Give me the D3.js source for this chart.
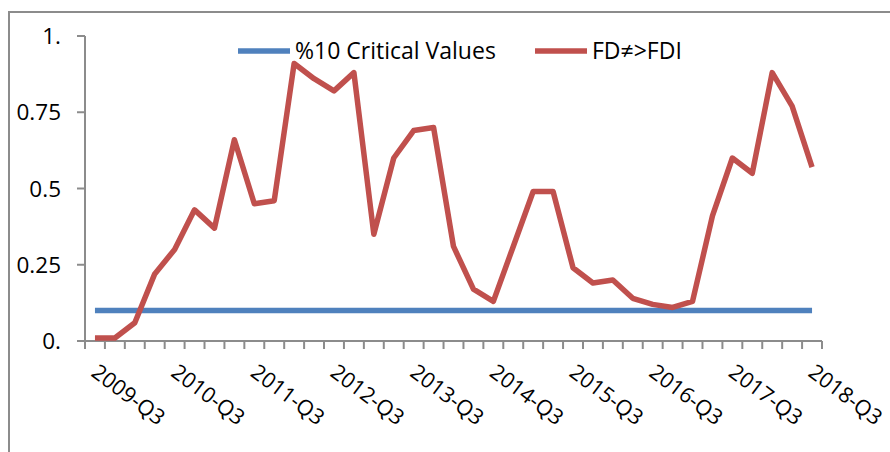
<!DOCTYPE html>
<html>
<head>
<meta charset="utf-8">
<script src="https://cdn.jsdelivr.net/npm/d3@7"></script>
<style>
    body { margin: 0; background: white; }
    svg text { font-family: "Open Sans", "Liberation Sans", sans-serif; fill: #000; }
</style>
</head>
<body>
<svg id="chart" width="890" height="452"></svg>
<script>
'use strict';

var quarters = ['2009-Q3', '2009-Q4', '2010-Q1', '2010-Q2', '2010-Q3', '2010-Q4', '2011-Q1', '2011-Q2',
    '2011-Q3', '2011-Q4', '2012-Q1', '2012-Q2', '2012-Q3', '2012-Q4', '2013-Q1', '2013-Q2',
    '2013-Q3', '2013-Q4', '2014-Q1', '2014-Q2', '2014-Q3', '2014-Q4', '2015-Q1', '2015-Q2',
    '2015-Q3', '2015-Q4', '2016-Q1', '2016-Q2', '2016-Q3', '2016-Q4', '2017-Q1', '2017-Q2',
    '2017-Q3', '2017-Q4', '2018-Q1', '2018-Q2', '2018-Q3']
var fdValues = [0.01, 0.01, 0.06, 0.22, 0.30, 0.43, 0.37, 0.66, 0.45, 0.46,
    0.91, 0.86, 0.82, 0.88, 0.35, 0.60, 0.69, 0.70, 0.31, 0.17,
    0.13, 0.31, 0.49, 0.49, 0.24, 0.19, 0.20, 0.14, 0.12, 0.11,
    0.13, 0.41, 0.60, 0.55, 0.88, 0.77, 0.57]
var criticalValue = 0.10
var yTicks = [0, 0.25, 0.5, 0.75, 1]
var yTickLabels = ['0.', '0.25', '0.5', '0.75', '1.']
var seriesNames = ['%10 Critical Values', 'FD\u2260>FDI']
var seriesColors = ['#4F81BD', '#C0504D']

var svg = d3.select('#chart')
var axisColor = '#8c8c8c'

// outer chart frame, runs off the right and bottom edge
svg.append('path')
    .attr('d', 'M9,452V12H890')
    .attr('fill', 'none')
    .attr('stroke', axisColor)
    .attr('stroke-width', 2)

var x = d3.scaleBand().domain(quarters).range([85, 822])
var y = d3.scaleLinear().domain([0, 1]).range([341, 36])
var cx = function(q) { return x(q) + x.bandwidth() / 2 }

// y axis
var yAxis = svg.append('g')
yAxis.append('line')
    .attr('x1', 85).attr('x2', 85)
    .attr('y1', y(0)).attr('y2', y(1))
    .attr('stroke', axisColor).attr('stroke-width', 2)
yAxis.selectAll('line.tick').data(yTicks).enter().append('line')
    .attr('class', 'tick')
    .attr('x1', 77).attr('x2', 85)
    .attr('y1', function(d) { return y(d) })
    .attr('y2', function(d) { return y(d) })
    .attr('stroke', axisColor).attr('stroke-width', 2)
yAxis.selectAll('text').data(yTicks).enter().append('text')
    .attr('x', 61)
    .attr('y', function(d) { return y(d) })
    .attr('dy', '0.36em')
    .attr('text-anchor', 'end')
    .style('font-size', '22.5px')
    .text(function(d, i) { return yTickLabels[i] })

// x axis, ticks between categories
var xAxis = svg.append('g')
xAxis.append('line')
    .attr('x1', 85).attr('x2', 822)
    .attr('y1', y(0)).attr('y2', y(0))
    .attr('stroke', axisColor).attr('stroke-width', 2)
var bounds = quarters.map(function(q) { return x(q) }).concat([x.range()[1]])
xAxis.selectAll('line.tick').data(bounds).enter().append('line')
    .attr('class', 'tick')
    .attr('x1', function(d) { return d })
    .attr('x2', function(d) { return d })
    .attr('y1', y(0)).attr('y2', y(0) + 8)
    .attr('stroke', axisColor).attr('stroke-width', 2)
var shown = quarters.filter(function(q, i) { return i % 4 === 0 })
xAxis.selectAll('text').data(shown).enter().append('text')
    .attr('transform', function(q) { return 'translate(' + (cx(q) - 5) + ',375) rotate(37)' })
    .attr('text-anchor', 'start')
    .style('font-size', '21.5px')
    .text(function(q) { return q })

// critical value line
svg.append('line')
    .attr('x1', cx(quarters[0]))
    .attr('x2', cx(quarters[quarters.length - 1]))
    .attr('y1', y(criticalValue)).attr('y2', y(criticalValue))
    .attr('stroke', seriesColors[0])
    .attr('stroke-width', 5.5)

// FD series
var line = d3.line()
    .x(function(d, i) { return cx(quarters[i]) })
    .y(function(d) { return y(d) })
svg.append('path')
    .datum(fdValues)
    .attr('d', line)
    .attr('fill', 'none')
    .attr('stroke', seriesColors[1])
    .attr('stroke-width', 5.5)
    .attr('stroke-linejoin', 'round')

// legend
var legendX = [238, 535]
var legend = svg.selectAll('g.legend').data(seriesNames).enter().append('g')
    .attr('class', 'legend')
    .attr('transform', function(d, i) { return 'translate(' + legendX[i] + ',51)' })
legend.append('line')
    .attr('x1', 0).attr('x2', 52)
    .attr('y1', 0).attr('y2', 0)
    .attr('stroke', function(d, i) { return seriesColors[i] })
    .attr('stroke-width', 5.5)
legend.append('text')
    .attr('x', 57)
    .attr('y', 0)
    .attr('dy', '0.36em')
    .style('font-size', '23px')
    .text(function(d) { return d })
</script>
</body>
</html>
